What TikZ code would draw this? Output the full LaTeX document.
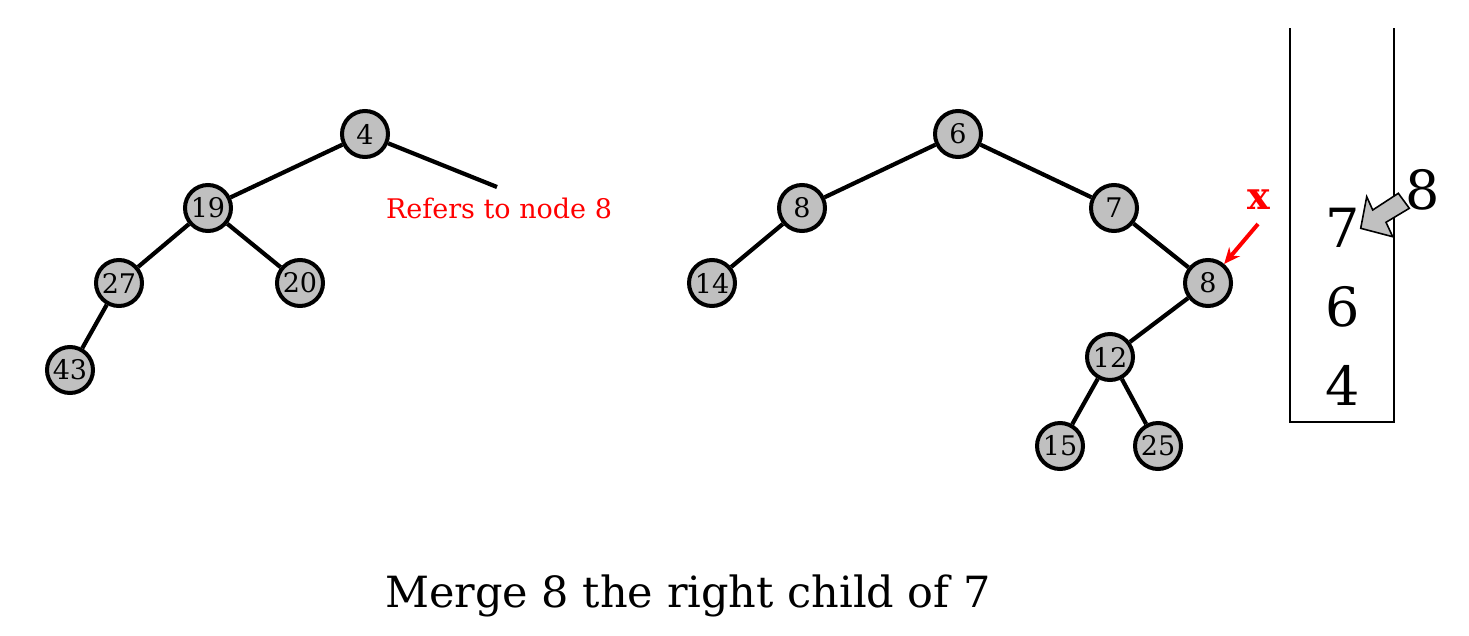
\documentclass[tikz,border=0pt]{standalone}
\usepackage{fontspec}
\setmainfont{DejaVu Serif}
\usetikzlibrary{arrows.meta}
\definecolor{nodegray}{RGB}{192,192,192}
\definecolor{pured}{RGB}{255,0,0}
\begin{document}
\begin{tikzpicture}[x=1pt,y=-1pt,
  tn/.style={circle, draw=black, line width=4pt, fill=nodegray, minimum size=46pt, inner sep=0pt, font=\fontsize{27}{27}\selectfont},
  edge/.style={line width=4.2pt},
  stackbox/.style={line width=2.6pt},
  stacknum/.style={font=\fontsize{54}{54}\selectfont, inner sep=0pt},
  redlabel/.style={text=pured, inner sep=0pt},
  blockarrow/.style={draw=black, line width=1.6pt, fill=nodegray, line join=miter}]
\useasboundingbox (0,0) rectangle (1469,635);
% left tree
\node[tn] (a4) at (365,134) {4};
\node[tn] (a19) at (208,208) {19};
\node[tn] (a27) at (119,283) {27};
\node[tn] (a20) at (300,283) {20};
\node[tn] (a43) at (70,370) {43};
\coordinate (afree) at (497,187);
\draw[edge] (a4) -- (a19);
\draw[edge] (a4) -- (afree);
\draw[edge] (a19) -- (a27);
\draw[edge] (a19) -- (a20);
\draw[edge] (a27) -- (a43);
\node[redlabel, font=\fontsize{27}{27}\selectfont] (refl) at (499,208) {Refers to node 8};
% right tree
\node[tn] (b6) at (958,134) {6};
\node[tn] (b8) at (802,208) {8};
\node[tn] (b7) at (1114,208) {7};
\node[tn] (b14) at (712,283) {14};
\node[tn] (b8r) at (1208,283) {8};
\node[tn] (b12) at (1110,357) {12};
\node[tn] (b15) at (1060,446) {15};
\node[tn] (b25) at (1158,446) {25};
\draw[edge] (b6) -- (b8);
\draw[edge] (b6) -- (b7);
\draw[edge] (b8) -- (b14);
\draw[edge] (b7) -- (b8r);
\draw[edge] (b8r) -- (b12);
\draw[edge] (b12) -- (b15);
\draw[edge] (b12) -- (b25);
% x pointer
\node[redlabel, font=\fontsize{38}{38}\bfseries\selectfont] (xl) at (1259,200) {x};
\coordinate (xs) at (1258,224);
\draw[pured, line width=4pt, -{Stealth[length=16pt,width=14pt]}] (xs) -- (b8r);
% stack
\coordinate (s1) at (1290,28);
\coordinate (s2) at (1290,422);
\coordinate (s3) at (1394,422);
\coordinate (s4) at (1394,28);
\draw[stackbox] (s1) -- (s2) -- (s3) -- (s4);
\node[stacknum] (st7) at (1343,228) {7};
\node[stacknum] (st6) at (1343,307) {6};
\node[stacknum] (st4) at (1343,385) {4};
\node[stacknum] (push8) at (1423,190) {8};
\draw[blockarrow] (1360.7,228.3) -- (1366.7,196.7) -- (1372.7,210) -- (1398.3,193.3) -- (1409.3,208.3) -- (1386,222.3) -- (1392.7,236.7) -- cycle;
% caption
\node[font=\fontsize{43}{43}\selectfont, inner sep=0pt] (cap) at (688,596) {Merge 8 the right child of 7};
\end{tikzpicture}
\end{document}
